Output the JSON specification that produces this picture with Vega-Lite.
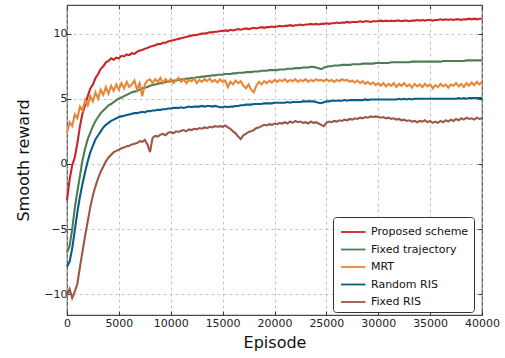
{
"$schema": "https://vega.github.io/schema/vega-lite/v6.json",
"autosize": {"type": "none"},
"width": 415,
"height": 310,
"padding": {"left": 67, "top": 5, "right": 23, "bottom": 43},
"config": {
  "font": "DejaVu Sans",
  "view": {"stroke": "#4a4a4a", "strokeWidth": 1.2},
  "axis": {"domain": false, "labelFont": "DejaVu Sans", "labelFontSize": 11, "labelColor": "#222", "tickColor": "#333", "tickSize": -4, "tickWidth": 1, "titleFont": "DejaVu Sans", "titleFontSize": 16, "titleFontWeight": "normal", "titleColor": "#111", "gridColor": "#b5b5b5", "gridDash": [3, 3], "gridWidth": 0.8, "labelOverlap": false, "labelFlush": false}
},
"data": {"values": [
{"e":0,"P":-2.8,"F":-6.8,"M":2.4,"R":-7.9,"X":-10.1},
{"e":250,"P":-1.2,"F":-6.3,"M":3.2,"R":-7.5,"X":-9.6},
{"e":500,"P":-0.1,"F":-5.0,"M":2.9,"R":-6.5,"X":-10.3},
{"e":750,"P":0.5,"F":-3.4,"M":3.8,"R":-5.1,"X":-9.8},
{"e":1000,"P":1.6,"F":-2.1,"M":3.5,"R":-3.7,"X":-9.2},
{"e":1250,"P":2.9,"F":-0.9,"M":4.4,"R":-2.5,"X":-7.9},
{"e":1500,"P":3.9,"F":0.3,"M":4.1,"R":-1.5,"X":-6.7},
{"e":1750,"P":4.5,"F":1.2,"M":4.9,"R":-0.6,"X":-5.5},
{"e":2000,"P":5.2,"F":1.9,"M":4.5,"R":0.2,"X":-4.4},
{"e":2250,"P":5.8,"F":2.4,"M":5.2,"R":0.9,"X":-3.3},
{"e":2500,"P":6.1,"F":2.9,"M":4.8,"R":1.4,"X":-2.4},
{"e":2750,"P":6.6,"F":3.3,"M":5.5,"R":1.9,"X":-1.7},
{"e":3000,"P":6.9,"F":3.6,"M":5.0,"R":2.2,"X":-1.1},
{"e":3250,"P":7.3,"F":3.9,"M":5.7,"R":2.5,"X":-0.6},
{"e":3500,"P":7.5,"F":4.1,"M":5.3,"R":2.8,"X":-0.2},
{"e":3750,"P":7.8,"F":4.3,"M":5.9,"R":3.0,"X":0.2},
{"e":4000,"P":7.9,"F":4.5,"M":5.4,"R":3.15,"X":0.5},
{"e":4250,"P":8.1,"F":4.6,"M":6.0,"R":3.3,"X":0.7},
{"e":4500,"P":8.0,"F":4.75,"M":5.6,"R":3.4,"X":0.9},
{"e":4750,"P":8.15,"F":4.9,"M":6.1,"R":3.5,"X":1.0},
{"e":5000,"P":8.1,"F":5.0,"M":5.7,"R":3.6,"X":1.1},
{"e":5250,"P":8.3,"F":5.1,"M":6.2,"R":3.65,"X":1.2},
{"e":5500,"P":8.25,"F":5.2,"M":5.8,"R":3.7,"X":1.25},
{"e":5750,"P":8.4,"F":5.3,"M":6.3,"R":3.75,"X":1.35},
{"e":6000,"P":8.35,"F":5.4,"M":5.9,"R":3.8,"X":1.4},
{"e":6250,"P":8.5,"F":5.5,"M":6.1,"R":3.85,"X":1.5},
{"e":6500,"P":8.45,"F":5.55,"M":6.4,"R":3.9,"X":1.55},
{"e":6750,"P":8.6,"F":5.6,"M":5.7,"R":3.9,"X":1.6},
{"e":7000,"P":8.7,"F":5.7,"M":6.2,"R":3.95,"X":1.75},
{"e":7250,"P":8.75,"F":5.8,"M":5.2,"R":4.0,"X":1.7},
{"e":7500,"P":8.85,"F":5.85,"M":6.1,"R":3.95,"X":1.85},
{"e":7750,"P":8.9,"F":5.9,"M":6.4,"R":4.05,"X":1.5},
{"e":8000,"P":9.0,"F":6.0,"M":6.5,"R":4.05,"X":0.9},
{"e":8250,"P":9.05,"F":6.05,"M":6.2,"R":4.1,"X":2.0},
{"e":8500,"P":9.1,"F":6.1,"M":6.5,"R":4.1,"X":2.15},
{"e":8750,"P":9.2,"F":6.15,"M":6.3,"R":4.15,"X":2.1},
{"e":9000,"P":9.2,"F":6.2,"M":6.6,"R":4.15,"X":2.25},
{"e":9250,"P":9.3,"F":6.2,"M":6.2,"R":4.2,"X":2.3},
{"e":9500,"P":9.3,"F":6.3,"M":6.5,"R":4.2,"X":2.2},
{"e":9750,"P":9.4,"F":6.3,"M":6.3,"R":4.25,"X":2.4},
{"e":10000,"P":9.45,"F":6.35,"M":6.5,"R":4.25,"X":2.45},
{"e":10250,"P":9.5,"F":6.4,"M":6.2,"R":4.3,"X":2.35},
{"e":10500,"P":9.55,"F":6.4,"M":6.4,"R":4.3,"X":2.5},
{"e":10750,"P":9.6,"F":6.45,"M":6.6,"R":4.3,"X":2.45},
{"e":11000,"P":9.65,"F":6.5,"M":6.3,"R":4.35,"X":2.55},
{"e":11250,"P":9.7,"F":6.5,"M":6.5,"R":4.3,"X":2.6},
{"e":11500,"P":9.75,"F":6.55,"M":6.2,"R":4.35,"X":2.5},
{"e":11750,"P":9.8,"F":6.55,"M":6.45,"R":4.4,"X":2.65},
{"e":12000,"P":9.85,"F":6.6,"M":6.35,"R":4.35,"X":2.6},
{"e":12250,"P":9.9,"F":6.6,"M":6.55,"R":4.4,"X":2.7},
{"e":12500,"P":9.9,"F":6.65,"M":6.2,"R":4.4,"X":2.65},
{"e":12750,"P":9.95,"F":6.65,"M":6.45,"R":4.4,"X":2.75},
{"e":13000,"P":10.0,"F":6.7,"M":6.3,"R":4.45,"X":2.7},
{"e":13250,"P":10.0,"F":6.7,"M":6.5,"R":4.4,"X":2.8},
{"e":13500,"P":10.05,"F":6.75,"M":6.35,"R":4.45,"X":2.75},
{"e":13750,"P":10.1,"F":6.75,"M":6.55,"R":4.45,"X":2.85},
{"e":14000,"P":10.1,"F":6.8,"M":6.3,"R":4.4,"X":2.8},
{"e":14250,"P":10.15,"F":6.8,"M":6.45,"R":4.45,"X":2.9},
{"e":14500,"P":10.15,"F":6.85,"M":6.25,"R":4.4,"X":2.85},
{"e":14750,"P":10.2,"F":6.85,"M":6.5,"R":4.35,"X":2.9},
{"e":15000,"P":10.2,"F":6.85,"M":6.3,"R":4.35,"X":2.85},
{"e":15250,"P":10.25,"F":6.9,"M":6.4,"R":4.4,"X":2.95},
{"e":15500,"P":10.2,"F":6.9,"M":5.9,"R":4.35,"X":2.8},
{"e":15750,"P":10.3,"F":6.9,"M":6.3,"R":4.4,"X":2.7},
{"e":16000,"P":10.25,"F":6.95,"M":6.1,"R":4.4,"X":2.5},
{"e":16250,"P":10.3,"F":6.95,"M":6.4,"R":4.45,"X":2.35},
{"e":16500,"P":10.35,"F":7.0,"M":6.2,"R":4.45,"X":2.1},
{"e":16750,"P":10.3,"F":7.0,"M":6.35,"R":4.5,"X":1.9},
{"e":17000,"P":10.35,"F":7.0,"M":6.0,"R":4.5,"X":2.2},
{"e":17250,"P":10.4,"F":7.05,"M":5.8,"R":4.55,"X":2.3},
{"e":17500,"P":10.35,"F":7.05,"M":6.1,"R":4.55,"X":2.45},
{"e":17750,"P":10.4,"F":7.05,"M":5.7,"R":4.55,"X":2.5},
{"e":18000,"P":10.45,"F":7.1,"M":5.5,"R":4.6,"X":2.6},
{"e":18250,"P":10.4,"F":7.1,"M":6.0,"R":4.6,"X":2.75},
{"e":18500,"P":10.45,"F":7.1,"M":6.3,"R":4.6,"X":2.8},
{"e":18750,"P":10.5,"F":7.15,"M":6.1,"R":4.6,"X":2.9},
{"e":19000,"P":10.45,"F":7.15,"M":6.35,"R":4.65,"X":3.0},
{"e":19250,"P":10.5,"F":7.15,"M":6.2,"R":4.65,"X":2.95},
{"e":19500,"P":10.5,"F":7.2,"M":6.4,"R":4.65,"X":3.05},
{"e":19750,"P":10.55,"F":7.2,"M":6.25,"R":4.65,"X":3.0},
{"e":20000,"P":10.5,"F":7.2,"M":6.45,"R":4.7,"X":3.1},
{"e":20250,"P":10.55,"F":7.2,"M":6.3,"R":4.7,"X":3.05},
{"e":20500,"P":10.6,"F":7.25,"M":6.45,"R":4.7,"X":3.15},
{"e":20750,"P":10.55,"F":7.25,"M":6.35,"R":4.7,"X":3.1},
{"e":21000,"P":10.6,"F":7.25,"M":6.5,"R":4.7,"X":3.2},
{"e":21250,"P":10.6,"F":7.3,"M":6.3,"R":4.75,"X":3.1},
{"e":21500,"P":10.65,"F":7.3,"M":6.45,"R":4.7,"X":3.25},
{"e":21750,"P":10.6,"F":7.3,"M":6.35,"R":4.75,"X":3.15},
{"e":22000,"P":10.65,"F":7.35,"M":6.5,"R":4.75,"X":3.3},
{"e":22250,"P":10.65,"F":7.35,"M":6.3,"R":4.75,"X":3.2},
{"e":22500,"P":10.7,"F":7.35,"M":6.45,"R":4.75,"X":3.25},
{"e":22750,"P":10.65,"F":7.4,"M":6.35,"R":4.8,"X":3.15},
{"e":23000,"P":10.7,"F":7.4,"M":6.5,"R":4.8,"X":3.2},
{"e":23250,"P":10.7,"F":7.4,"M":6.3,"R":4.8,"X":3.1},
{"e":23500,"P":10.75,"F":7.45,"M":6.45,"R":4.8,"X":3.25},
{"e":23750,"P":10.7,"F":7.45,"M":6.35,"R":4.8,"X":3.15},
{"e":24000,"P":10.75,"F":7.4,"M":6.5,"R":4.75,"X":3.2},
{"e":24250,"P":10.7,"F":7.35,"M":6.4,"R":4.7,"X":3.1},
{"e":24500,"P":10.75,"F":7.28,"M":6.45,"R":4.66,"X":3.0},
{"e":24750,"P":10.75,"F":7.38,"M":6.35,"R":4.74,"X":2.9},
{"e":25000,"P":10.8,"F":7.45,"M":6.5,"R":4.8,"X":3.15},
{"e":25250,"P":10.75,"F":7.5,"M":6.35,"R":4.8,"X":3.25},
{"e":25500,"P":10.8,"F":7.5,"M":6.45,"R":4.85,"X":3.2},
{"e":25750,"P":10.8,"F":7.55,"M":6.3,"R":4.85,"X":3.3},
{"e":26000,"P":10.85,"F":7.55,"M":6.45,"R":4.85,"X":3.25},
{"e":26250,"P":10.8,"F":7.55,"M":6.35,"R":4.85,"X":3.35},
{"e":26500,"P":10.85,"F":7.6,"M":6.5,"R":4.85,"X":3.3},
{"e":26750,"P":10.85,"F":7.6,"M":6.4,"R":4.9,"X":3.4},
{"e":27000,"P":10.9,"F":7.6,"M":6.45,"R":4.85,"X":3.35},
{"e":27250,"P":10.85,"F":7.6,"M":6.3,"R":4.9,"X":3.45},
{"e":27500,"P":10.9,"F":7.65,"M":6.4,"R":4.9,"X":3.4},
{"e":27750,"P":10.9,"F":7.65,"M":6.25,"R":4.9,"X":3.5},
{"e":28000,"P":10.9,"F":7.65,"M":6.4,"R":4.9,"X":3.45},
{"e":28250,"P":10.95,"F":7.65,"M":6.2,"R":4.9,"X":3.55},
{"e":28500,"P":10.9,"F":7.7,"M":6.35,"R":4.9,"X":3.5},
{"e":28750,"P":10.95,"F":7.7,"M":6.15,"R":4.95,"X":3.6},
{"e":29000,"P":10.95,"F":7.7,"M":6.3,"R":4.9,"X":3.55},
{"e":29250,"P":10.9,"F":7.7,"M":6.1,"R":4.95,"X":3.65},
{"e":29500,"P":10.95,"F":7.7,"M":6.25,"R":4.95,"X":3.6},
{"e":29750,"P":10.95,"F":7.75,"M":6.05,"R":4.95,"X":3.65},
{"e":30000,"P":10.95,"F":7.75,"M":6.2,"R":4.95,"X":3.6},
{"e":30250,"P":11.0,"F":7.75,"M":6.0,"R":4.95,"X":3.55},
{"e":30500,"P":10.95,"F":7.75,"M":6.2,"R":4.95,"X":3.6},
{"e":30750,"P":11.0,"F":7.75,"M":5.95,"R":4.95,"X":3.5},
{"e":31000,"P":10.95,"F":7.75,"M":6.15,"R":4.95,"X":3.55},
{"e":31250,"P":11.0,"F":7.8,"M":6.0,"R":4.95,"X":3.45},
{"e":31500,"P":10.95,"F":7.8,"M":6.2,"R":4.95,"X":3.5},
{"e":31750,"P":11.0,"F":7.8,"M":5.9,"R":4.95,"X":3.4},
{"e":32000,"P":11.0,"F":7.8,"M":6.15,"R":5.0,"X":3.45},
{"e":32250,"P":10.95,"F":7.8,"M":6.0,"R":4.95,"X":3.35},
{"e":32500,"P":11.0,"F":7.8,"M":6.2,"R":5.0,"X":3.4},
{"e":32750,"P":11.0,"F":7.8,"M":5.95,"R":4.95,"X":3.3},
{"e":33000,"P":10.95,"F":7.8,"M":6.1,"R":5.0,"X":3.35},
{"e":33250,"P":11.0,"F":7.85,"M":5.85,"R":4.95,"X":3.25},
{"e":33500,"P":11.0,"F":7.85,"M":6.15,"R":5.0,"X":3.3},
{"e":33750,"P":11.05,"F":7.85,"M":5.95,"R":5.0,"X":3.2},
{"e":34000,"P":11.0,"F":7.85,"M":6.1,"R":5.0,"X":3.3},
{"e":34250,"P":11.05,"F":7.85,"M":5.9,"R":5.0,"X":3.25},
{"e":34500,"P":11.0,"F":7.85,"M":6.15,"R":5.0,"X":3.35},
{"e":34750,"P":11.05,"F":7.85,"M":5.95,"R":5.0,"X":3.2},
{"e":35000,"P":11.05,"F":7.85,"M":6.1,"R":5.0,"X":3.3},
{"e":35250,"P":11.0,"F":7.85,"M":5.8,"R":5.0,"X":3.15},
{"e":35500,"P":11.05,"F":7.85,"M":6.05,"R":5.0,"X":3.25},
{"e":35750,"P":11.05,"F":7.85,"M":5.9,"R":5.0,"X":3.15},
{"e":36000,"P":11.1,"F":7.85,"M":6.15,"R":5.0,"X":3.3},
{"e":36250,"P":11.05,"F":7.9,"M":5.95,"R":5.0,"X":3.2},
{"e":36500,"P":11.1,"F":7.9,"M":6.1,"R":5.0,"X":3.35},
{"e":36750,"P":11.05,"F":7.9,"M":5.85,"R":5.0,"X":3.25},
{"e":37000,"P":11.1,"F":7.9,"M":6.1,"R":5.0,"X":3.4},
{"e":37250,"P":11.05,"F":7.9,"M":6.0,"R":5.0,"X":3.3},
{"e":37500,"P":11.1,"F":7.9,"M":6.2,"R":5.0,"X":3.45},
{"e":37750,"P":11.1,"F":7.9,"M":5.95,"R":5.05,"X":3.35},
{"e":38000,"P":11.05,"F":7.9,"M":6.15,"R":5.0,"X":3.5},
{"e":38250,"P":11.1,"F":7.9,"M":5.9,"R":5.05,"X":3.4},
{"e":38500,"P":11.1,"F":7.95,"M":6.2,"R":5.0,"X":3.55},
{"e":38750,"P":11.15,"F":7.95,"M":6.0,"R":5.05,"X":3.45},
{"e":39000,"P":11.1,"F":7.95,"M":6.25,"R":5.05,"X":3.5},
{"e":39250,"P":11.15,"F":7.95,"M":6.05,"R":5.05,"X":3.4},
{"e":39500,"P":11.1,"F":7.95,"M":6.3,"R":5.05,"X":3.55},
{"e":39750,"P":11.15,"F":7.95,"M":6.1,"R":5.05,"X":3.45},
{"e":40000,"P":11.15,"F":7.95,"M":6.3,"R":5.05,"X":3.5}
]},
"transform": [{"fold": ["P", "F", "M", "R", "X"], "as": ["series", "reward"]}],
"layer": [
  {
    "mark": {"type": "line", "strokeWidth": 2.1, "interpolate": "linear"},
    "encoding": {
      "x": {"field": "e", "type": "quantitative", "scale": {"domain": [0, 40000], "nice": false}, "axis": {"title": "Episode", "values": [0,5000,10000,15000,20000,25000,30000,35000,40000], "format": "d", "labelPadding": 6, "titlePadding": 6, "grid": true}},
      "y": {"field": "reward", "type": "quantitative", "scale": {"domain": [-11.6, 12.2], "nice": false, "zero": false}, "axis": {"title": "Smooth reward", "values": [-10,-5,0,5,10], "labelPadding": 4, "titlePadding": 12, "grid": true}},
      "color": {"field": "series", "type": "nominal",
        "scale": {"domain": ["P", "F", "M", "R", "X"], "range": ["#cc2529", "#4d7d55", "#e8873a", "#0d5c8c", "#9b5846"]},
        "legend": {"title": null, "orient": "none", "legendX": 266, "legendY": 212, "symbolType": "M-0.8,0H2", "symbolSize": 306, "symbolStrokeWidth": 1.8, "labelFontSize": 11, "labelFont": "DejaVu Sans", "labelColor": "#111", "rowPadding": 2.5, "padding": 5, "labelOffset": 13, "strokeColor": "#333", "fillColor": "white", "cornerRadius": 3,
          "labelExpr": "datum.label == 'P' ? 'Proposed scheme' : datum.label == 'F' ? 'Fixed trajectory' : datum.label == 'M' ? 'MRT' : datum.label == 'R' ? 'Random RIS' : 'Fixed RIS'"}}
    }
  },
  {
    "mark": {"type": "point", "opacity": 0},
    "encoding": {
      "x": {"field": "e", "type": "quantitative", "axis": {"orient": "top", "labels": false, "grid": false, "title": null, "values": [0,5000,10000,15000,20000,25000,30000,35000,40000]}},
      "y": {"field": "reward", "type": "quantitative", "axis": {"orient": "right", "labels": false, "grid": false, "title": null, "values": [-10,-5,0,5,10]}}
    }
  }
],
"resolve": {"axis": {"x": "independent", "y": "independent"}}
}
